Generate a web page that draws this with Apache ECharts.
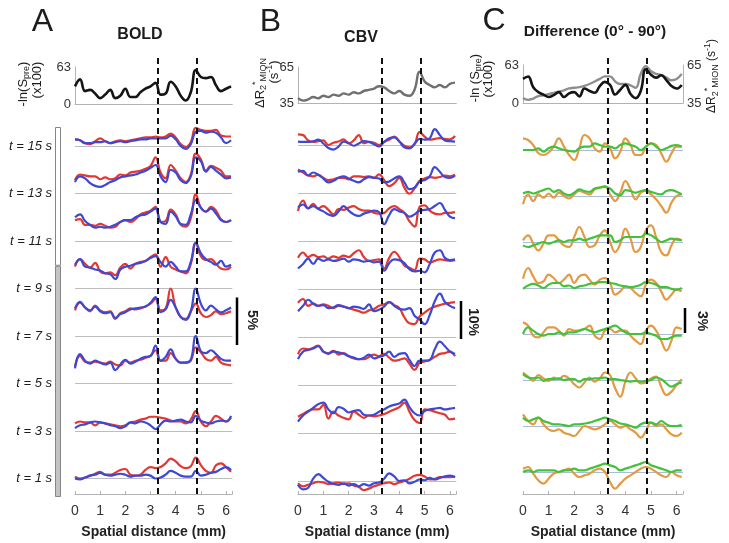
<!DOCTYPE html>
<html><head><meta charset="utf-8">
<script src="https://cdn.jsdelivr.net/npm/echarts@6/dist/echarts.min.js"></script>
<style>html,body{margin:0;padding:0;background:#fff}#c{width:729px;height:543px}</style>
</head><body><div id="c"></div>
<script>
// ---------------- DATA ----------------
const distanceMm = [0,0.2,0.4,0.6,0.8,1.0,1.2,1.4,1.6,1.8,2.0,2.2,2.4,2.6,2.8,3.0,3.2,3.4,3.6,3.8,4.0,4.2,4.4,4.6,4.8,5.0,5.2,5.4,5.6,5.8,6.0,6.2];
const times = ['t = 15 s','t = 13 s','t = 11 s','t = 9 s','t = 7 s','t = 5 s','t = 3 s','t = 1 s'];
const dashedLinesMm = [3.3, 4.85];
const scaleBarPct = [5, 10, 3];
const stimulusSec = 10;
const timeWindowSec = 16;

// top profiles
const boldTop = [30,42,22,24,18,10,16,24,10,14,26,12,12,20,26,30,36,16,18,38,30,14,6,20,58,46,44,46,32,22,26,30];
const cbvTop = [39,37,38,40,39,41,40,42,41,43,42,44,43,45,46,47,49,48,45,43,45,42,41,46,61,53,50,48,50,48,51,52];
const diffTopBold = [40,44,26,18,14,10,13,18,10,16,18,11,24,20,17,28,35,30,14,22,30,15,8,20,56,47,42,46,38,28,24,30];
const diffTopCbv = [39,37.5,38.5,40.5,41,42,43,44,45,46.5,47,47.5,48.5,50,52,54,56,56,52,50,50,49,47,58,64,60,58,57,55,53,54,58];

// BOLD (% change), rows t=15 ... t=1
const boldRed = [
 [0.7,0.6,0.3,0.2,0.5,0.8,0.5,0.3,0.5,0.6,0.5,0.6,0.7,0.8,0.9,0.9,1.0,0.9,1.0,1.3,0.9,0.2,-0.1,0.4,1.9,1.7,1.6,1.6,1.7,1.1,1.0,1.0],
 [1.4,2.0,1.9,1.8,1.8,1.5,1.7,1.5,1.6,2.0,1.9,2.2,2.3,2.4,2.6,2.9,3.8,2.2,1.6,3.0,2.4,1.6,1.2,2.0,4.2,3.6,2.4,2.9,2.7,2.4,1.8,1.8],
 [2.2,2.3,1.7,1.7,1.6,1.8,1.6,1.4,1.5,2.0,2.2,2.0,2.3,2.8,3.0,3.2,3.6,2.0,2.1,3.3,2.8,1.7,1.5,2.4,4.9,3.5,3.1,3.6,3.2,2.3,2.0,2.2],
 [2.3,3.1,2.6,2.2,2.7,1.8,1.6,1.7,1.4,2.2,2.6,2.1,2.6,2.8,2.9,3.3,3.6,2.3,3.3,2.3,2.0,1.8,1.6,2.6,4.8,3.4,3.0,3.1,2.6,2.1,2.0,2.3],
 [2.7,3.5,3.0,2.6,3.2,2.7,2.5,2.6,1.8,2.4,2.6,2.9,2.8,2.9,3.1,3.4,3.9,2.7,2.9,5.0,3.0,2.0,1.8,2.6,3.4,2.4,2.0,2.2,2.6,2.3,2.4,2.6],
 [1.8,2.9,2.3,2.2,2.3,2.2,2.1,2.3,2.0,1.9,2.4,2.2,2.4,2.5,2.7,2.9,3.5,2.4,2.4,3.2,2.6,2.2,2.2,2.4,3.8,3.3,2.6,2.4,2.8,2.2,2.0,1.9],
 [0.8,1.0,0.9,0.9,0.6,0.9,0.8,0.7,0.6,0.5,0.6,0.9,1.0,1.2,1.3,1.5,1.5,1.4,1.3,1.1,1.0,1.0,0.8,1.2,2.1,1.0,0.5,1.0,1.6,1.3,1.0,1.4],
 [0.2,0.0,0.1,0.3,0.5,0.7,0.4,0.4,0.6,0.9,1.0,0.4,0.3,0.4,0.9,1.2,1.1,1.2,1.6,2.1,1.8,1.3,1.1,1.3,2.2,1.4,0.8,0.6,1.4,1.6,1.2,0.7]
];
const boldBlue = [
 [0.7,0.6,0.3,0.3,0.4,0.4,0.5,0.3,0.4,0.5,0.4,0.5,0.6,0.7,0.7,0.8,0.8,0.8,0.8,1.1,0.7,0.0,-0.3,0.2,1.5,1.6,1.4,1.5,1.4,0.9,0.3,0.6],
 [1.2,1.8,1.6,1.1,0.8,0.7,0.9,1.2,1.4,1.7,1.8,1.9,2.0,2.2,2.4,2.7,3.0,1.8,1.2,2.5,2.2,1.4,1.1,1.8,3.8,3.4,2.3,2.8,2.4,2.0,1.6,1.7],
 [2.5,2.8,2.1,1.7,1.4,1.5,1.4,1.5,1.7,2.0,2.2,2.2,2.5,2.7,2.8,3.1,3.4,2.0,1.8,3.1,2.6,1.8,1.7,2.8,4.3,3.5,3.1,3.4,2.9,2.2,2.0,2.2],
 [2.5,3.1,2.3,2.2,2.0,1.9,1.6,1.5,1.0,2.0,2.3,2.4,2.6,2.7,2.9,3.2,3.4,2.8,2.3,2.8,2.3,1.8,1.8,2.8,4.8,3.7,3.1,2.8,2.5,2.9,2.3,2.5],
 [2.9,3.6,3.0,2.7,3.1,2.6,2.4,2.5,1.9,2.3,2.5,2.8,2.9,3.0,3.1,3.5,4.1,2.5,2.8,3.8,3.0,2.0,1.7,2.6,5.0,3.4,2.7,3.2,2.8,2.5,2.7,3.0],
 [1.6,3.1,2.4,2.1,2.4,2.2,2.0,2.2,1.4,2.0,2.5,2.1,2.3,2.6,2.8,2.9,4.0,2.4,2.8,3.6,2.6,2.2,2.2,2.5,5.0,3.4,3.2,3.5,3.1,2.6,2.4,2.4],
 [0.3,0.6,0.7,0.9,1.0,0.9,0.8,0.6,0.5,0.3,0.5,0.9,0.8,1.0,0.9,0.6,0.2,0.7,1.1,1.0,1.1,1.2,1.0,0.9,1.6,1.1,0.9,0.8,1.0,1.1,1.0,1.6],
 [0.0,-0.1,0.1,0.3,0.4,0.6,0.4,0.3,0.4,0.5,0.4,0.2,0.3,0.3,0.4,0.3,0.0,0.1,0.4,0.8,0.6,0.3,0.2,0.2,0.8,0.3,0.4,0.6,0.7,1.0,1.2,0.9]
];

// CBV (% change)
const cbvRed = [
 [2.8,2.6,1.2,0.8,1.0,1.2,0.0,0.6,0.9,1.5,0.4,1.2,2.6,0.5,0.8,0.6,0.0,0.8,1.4,2.2,1.0,-0.2,-0.6,0.2,3.4,2.2,1.4,1.6,1.8,1.6,1.5,2.4],
 [6.2,5.4,4.6,4.4,4.8,4.0,3.4,3.6,4.0,4.0,3.6,4.4,4.4,4.2,4.4,4.0,4.9,3.4,1.8,2.6,4.0,1.4,-0.2,1.2,3.2,3.8,4.2,4.0,4.2,4.6,4.4,4.8],
 [7.9,10.6,8.6,9.8,8.6,9.2,8.2,7.0,8.4,8.2,8.8,9.2,8.4,8.0,8.0,7.4,7.2,7.4,8.6,9.2,8.4,7.4,5.2,3.8,9.0,9.4,8.0,7.2,7.0,7.4,7.4,7.6],
 [8.2,9.6,8.4,9.0,8.4,8.6,8.0,8.6,8.2,8.8,8.4,9.4,10.2,8.4,7.4,7.6,7.8,5.4,8.2,9.8,8.4,6.2,5.6,5.0,8.0,7.8,7.0,7.4,7.8,7.6,7.4,7.6],
 [9.0,10.0,8.2,8.8,8.2,8.6,8.2,7.6,8.2,8.0,7.6,7.2,6.8,6.4,7.0,7.4,8.2,8.6,9.2,8.4,7.6,5.2,3.6,3.4,5.4,6.4,7.4,8.0,8.4,8.8,9.0,9.2],
 [8.1,9.6,9.4,9.8,10.4,8.8,8.4,9.0,8.0,8.4,7.6,7.0,6.8,6.8,7.4,8.0,7.6,8.2,7.2,6.4,6.6,7.0,5.6,4.0,5.8,6.2,6.6,7.4,8.2,8.4,8.8,7.6],
 [4.3,5.0,5.8,6.2,6.2,7.4,3.8,5.6,4.6,4.0,3.6,5.6,4.8,4.0,4.6,4.4,4.6,5.0,5.6,6.2,6.8,8.0,5.6,3.4,2.6,6.2,6.0,5.6,5.2,4.8,3.6,3.8],
 [-0.6,-1.4,-1.0,-0.6,-0.2,-0.4,-0.8,-0.6,-0.4,-0.8,-0.6,-1.2,-1.6,-2.4,-2.0,-1.4,-1.0,-0.6,-0.4,-0.8,-0.4,0.0,0.6,1.4,1.6,1.2,0.4,0.6,1.0,1.0,1.0,1.2]
];
const cbvBlue = [
 [0.9,0.8,0.8,1.0,1.4,0.4,-0.8,-1.2,-0.4,0.9,0.5,-0.2,0.4,1.0,0.8,0.2,-0.4,0.8,1.8,2.0,0.9,-0.6,-0.9,0.3,1.6,1.4,1.8,4.2,2.6,1.2,1.0,0.9],
 [5.6,5.8,4.6,5.4,4.8,3.8,2.8,3.2,4.0,4.4,3.8,3.2,2.8,3.6,4.2,4.0,3.8,2.8,3.0,3.8,4.4,2.8,1.0,1.4,3.0,3.4,4.4,6.8,5.6,4.2,4.0,4.6],
 [8.8,9.6,8.6,9.2,8.4,7.8,7.0,6.6,7.8,9.2,8.0,7.0,6.6,7.2,7.6,8.0,7.6,4.4,6.8,8.4,7.8,7.4,6.4,7.0,8.0,8.2,8.4,9.2,10.0,8.2,6.4,6.0],
 [5.4,6.6,8.0,6.6,8.0,7.4,7.8,7.4,7.6,8.0,7.2,7.8,7.6,7.2,7.4,7.0,7.2,4.8,6.8,7.8,7.6,6.8,5.2,4.6,4.8,4.4,6.6,9.6,10.2,8.2,7.6,7.8],
 [6.8,8.2,9.8,8.8,8.2,8.4,7.6,7.8,8.4,8.0,7.6,8.0,7.8,7.4,8.6,6.8,7.2,8.0,9.2,8.2,7.4,7.2,7.6,5.6,4.6,3.4,5.8,9.4,11.4,9.2,8.2,7.6],
 [6.8,8.8,9.2,9.6,10.2,8.8,8.2,8.8,8.6,8.2,7.6,7.2,6.8,7.2,8.0,7.0,7.4,7.8,8.8,7.4,8.2,8.4,6.6,5.0,6.4,6.4,6.6,9.4,11.4,10.2,8.8,8.2],
 [3.0,4.6,5.6,6.6,7.6,8.0,6.2,5.2,6.8,6.4,5.4,5.8,6.0,4.8,4.6,4.8,5.6,6.2,7.0,7.4,7.8,8.8,6.8,5.2,4.6,5.8,6.2,6.4,6.6,6.2,6.4,6.6],
 [-1.0,-2.2,-1.8,0.6,1.8,0.8,-0.2,-0.8,-1.0,-0.6,-1.2,-0.8,-1.4,-0.8,-1.2,-0.6,-0.4,0.6,2.0,1.2,0.0,0.2,-0.6,-0.2,0.4,0.2,0.8,0.4,0.8,1.2,1.4,1.0]
];

// Difference (0 - 90 deg), % change
const diffOrange = [
 [1.4,1.2,0.6,-0.4,-0.6,-0.3,0.4,1.4,0.4,-0.6,-1.2,0.2,1.8,1.4,0.2,-0.2,0.8,0.2,-1.0,-0.2,1.4,0.6,-0.6,-0.6,0.4,0.8,0.6,-0.4,-1.4,-0.4,0.4,0.4],
 [-1.0,0.2,-0.6,0.2,-0.2,0.3,-0.2,0.4,0.0,-0.3,0.2,0.6,0.4,0.2,0.8,1.0,1.2,0.2,-0.6,0.4,1.8,0.8,-0.4,0.4,0.6,0.2,-0.4,-1.2,-2.0,-0.8,0.0,0.2],
 [0.2,0.8,-0.2,-1.0,-0.2,0.8,0.8,0.2,-0.4,-0.6,0.6,1.8,0.6,-0.6,-0.4,0.8,1.4,0.0,-1.2,-0.2,1.6,0.4,-1.2,-0.6,1.4,2.0,0.6,-1.2,-1.6,-0.4,0.4,0.2],
 [1.1,2.4,1.4,0.6,0.8,1.6,1.2,0.6,1.0,1.6,0.6,1.4,1.6,1.0,0.4,1.0,1.2,0.6,-0.8,-0.4,0.2,0.0,-0.6,-1.0,0.4,1.0,0.6,-0.4,-1.4,-0.8,-0.2,-0.4],
 [1.4,1.0,-0.2,-0.4,0.2,0.8,0.8,0.4,-0.2,0.6,0.4,0.4,0.6,1.0,-0.2,-0.6,0.4,0.6,0.2,0.4,0.4,-0.2,-0.8,-1.2,0.4,1.0,0.4,-0.8,-2.0,-0.8,0.8,0.6],
 [0.9,0.4,-0.1,0.6,0.2,-0.1,0.3,0.1,0.5,0.2,-0.5,-0.9,-0.3,0.3,-0.2,0.2,0.9,0.6,-1.0,-2.0,-0.2,0.9,0.2,-0.4,-0.3,0.2,0.4,-0.8,-1.8,-1.4,-0.6,0.1],
 [1.4,0.6,0.2,1.0,0.2,-0.4,-0.6,-0.4,-0.8,-1.0,-1.2,-0.6,0.0,-0.2,-0.4,-0.2,0.2,0.6,0.2,-0.2,0.0,-0.4,-0.8,-1.4,-0.6,0.4,0.0,0.2,-0.4,-1.0,-1.2,-0.8],
 [0.4,0.6,-0.2,-1.0,-1.4,-0.8,-0.2,0.0,0.2,0.4,-0.2,-0.6,-0.4,-0.2,0.2,0.4,0.0,-1.2,-2.0,-1.4,-0.8,-0.4,0.0,0.4,0.6,0.4,0.0,-0.4,-0.6,0.0,-0.4,-0.6]
];
const diffGreen = [
 [0.0,0.0,0.0,0.2,-0.2,0.2,0.4,0.2,0.0,-0.1,-0.2,0.2,0.4,0.4,0.8,0.6,0.4,0.4,0.2,0.6,0.8,0.6,0.4,0.0,0.4,0.8,0.4,0.0,0.2,0.5,0.6,0.4],
 [0.3,0.5,0.3,0.5,0.7,0.9,0.5,0.7,0.3,0.1,0.4,0.8,0.6,0.5,0.9,1.0,1.1,0.9,0.3,0.1,0.7,0.6,0.4,0.6,0.7,0.5,0.3,0.2,0.6,0.7,0.5,0.2],
 [-0.4,-0.6,-0.4,-0.2,0.0,-0.2,0.0,0.2,0.0,0.2,0.2,0.4,0.2,0.4,0.6,0.8,0.8,0.8,0.0,0.2,0.6,0.6,0.6,0.6,1.0,0.8,0.4,0.0,0.2,0.4,0.3,0.2],
 [-0.1,0.3,0.5,0.3,0.0,0.4,0.6,0.6,0.2,0.3,0.0,0.2,0.3,0.5,0.6,0.7,0.7,0.6,0.5,0.3,0.2,0.1,0.2,0.4,0.7,0.6,0.4,0.1,0.1,-0.1,-0.2,0.0],
 [0.0,0.8,0.4,0.0,-0.2,0.0,0.0,0.2,0.0,0.2,0.2,0.4,0.6,0.4,0.2,0.4,0.6,0.8,1.0,0.6,0.2,0.0,0.0,0.0,0.2,0.0,-0.2,-0.6,-0.6,-0.4,-0.2,-0.2],
 [0.7,0.3,0.2,0.3,-0.1,0.1,0.1,0.2,0.0,0.1,0.1,-0.2,0.1,0.1,0.2,0.2,0.3,0.1,0.1,0.0,-0.1,-0.2,-0.1,-0.2,-0.1,0.0,0.3,0.1,-0.4,-0.8,-0.5,-0.3],
 [1.0,0.6,0.8,1.0,0.6,0.4,0.2,0.2,0.1,0.0,0.2,0.2,0.3,0.4,0.6,0.8,1.0,0.8,0.6,0.3,0.2,0.0,-0.2,0.2,0.4,0.4,0.2,0.6,0.2,0.0,0.0,0.1],
 [0.0,0.2,0.0,0.2,0.2,0.2,0.2,0.0,0.2,0.2,0.4,0.2,0.2,0.4,0.6,0.8,1.0,0.8,0.6,0.2,0.4,0.6,0.8,1.0,1.2,0.8,0.6,0.4,0.2,0.0,0.2,0.2]
];

// ---------------- LAYOUT (pixels) ----------------
const FF = '"Liberation Sans", Arial, Helvetica, sans-serif';
const X_MAX = 6.25, STACK_TOP = 58, AXIS_Y = 494;
const LAY = [
  {x0: 75,  pxPerMm: 25.17, row1: 478.5, rowGap: 47.5, pxPerPct: 9.5,  topTop: 67, topH: 37, barXpx: 237, barBottomPx: 345},
  {x0: 298, pxPerMm: 25.33, row1: 481,   rowGap: 48,   pxPerPct: 3.8,  topTop: 67, topH: 36, barXpx: 461, barBottomPx: 339},
  {x0: 523, pxPerMm: 25.6,  row1: 472,   rowGap: 46,   pxPerPct: 8.33, topTop: 65, topH: 38, barXpx: 685, barBottomPx: 333}
];

const panels = [
  {top: [{data: boldTop, color: '#151515', width: 2.6, min: 0, max: 63, interval: 63, pos: 'left'}],
   rows: [boldRed, boldBlue], colors: ['#e4372f', '#3c48d6'], base: '#bdbdbd'},
  {top: [{data: cbvTop, color: '#6f6f6f', width: 2.4, min: 35, max: 65, interval: 30, pos: 'left'}],
   rows: [cbvRed, cbvBlue], colors: ['#e4372f', '#3c48d6'], base: '#bdbdbd'},
  {top: [{data: diffTopCbv, color: '#8e8e8e', width: 2.4, min: 35, max: 65, interval: 30, pos: 'right'},
         {data: diffTopBold, color: '#151515', width: 2.6, min: 0, max: 63, interval: 63, pos: 'left'}],
   rows: [diffOrange, diffGreen], colors: ['#e39a42', '#42c23a'], base: '#a9bdd8'}
];

const option = {animation: false, backgroundColor: '#fff', grid: [], xAxis: [], yAxis: [], series: [], graphic: []};
const addGrid = g => (option.grid.push(Object.assign({outerBoundsMode: 'none'}, g)), option.grid.length - 1);
const addX = a => (option.xAxis.push(a), option.xAxis.length - 1);
const addY = a => (option.yAxis.push(a), option.yAxis.length - 1);
const axisGray = '#b3b3b3';

panels.forEach((p, pi) => {
  const lay = LAY[pi];
  const w = X_MAX * lay.pxPerMm;
  // top profile plot
  const gT = addGrid({left: lay.x0, top: lay.topTop, width: w, height: lay.topH});
  const xT = addX({gridIndex: gT, type: 'value', min: 0, max: X_MAX,
    axisLine: {onZero: false, lineStyle: {color: axisGray, width: 1}}, axisTick: {show: false},
    axisLabel: {show: false}, splitLine: {show: false}});
  p.top.forEach(t => {
    const yT = addY({gridIndex: gT, type: 'value', position: t.pos, min: t.min, max: t.max, interval: t.interval,
      axisLine: {show: true, onZero: false, lineStyle: {color: axisGray, width: 1}}, axisTick: {show: false},
      splitLine: {show: false}, axisLabel: {fontSize: 13, color: '#333', margin: 4, fontFamily: FF}});
    option.series.push({type: 'line', xAxisIndex: xT, yAxisIndex: yT, silent: true,
      data: distanceMm.map((x, i) => [x, t.data[i]]), smooth: 0.45, symbol: 'none',
      lineStyle: {color: t.color, width: t.width}, z: 4});
  });
  // stacked time-course plot
  const gS = addGrid({left: lay.x0, top: STACK_TOP, width: w, height: AXIS_Y - STACK_TOP});
  const xS = addX({gridIndex: gS, type: 'value', min: 0, max: X_MAX, interval: 1,
    axisLine: {onZero: false, lineStyle: {color: axisGray, width: 1}},
    axisTick: {inside: true, length: 3, lineStyle: {color: axisGray}},
    axisLabel: {fontSize: 14, color: '#333', margin: 10, fontFamily: FF,
      formatter: v => (Math.abs(v - Math.round(v)) < 1e-6 && v <= 6) ? String(Math.round(v)) : ''},
    splitLine: {show: false},
    name: 'Spatial distance (mm)', nameLocation: 'middle', nameGap: 31,
    nameTextStyle: {fontSize: 14, fontWeight: 'bold', color: '#222', fontFamily: FF}});
  const yMin = (lay.row1 - AXIS_Y) / lay.pxPerPct, yMax = (lay.row1 - STACK_TOP) / lay.pxPerPct;
  const yS = addY({gridIndex: gS, type: 'value', show: false, min: yMin, max: yMax});
  const step = lay.rowGap / lay.pxPerPct;
  times.forEach((t, k) => {
    const off = (times.length - 1 - k) * step;
    p.rows.forEach((rows, si) => {
      const s = {type: 'line', xAxisIndex: xS, yAxisIndex: yS, silent: true,
        data: distanceMm.map((x, i) => [x, off + rows[k][i]]), smooth: 0.45, symbol: 'none',
        lineStyle: {color: p.colors[si], width: 2.2}, z: 3 + si};
      if (si === 0) s.markLine = {silent: true, symbol: ['none', 'none'], label: {show: false}, z: 1,
        animation: false, lineStyle: {color: p.base, width: 1, type: 'solid'}, data: [{yAxis: off}]};
      option.series.push(s);
    });
  });
  // dashed reference lines
  option.series.push({type: 'line', xAxisIndex: xS, yAxisIndex: yS, silent: true, symbol: 'none',
    data: [[0, 0]], lineStyle: {opacity: 0}, z: 10,
    markLine: {silent: true, symbol: ['none', 'none'], label: {show: false}, z: 10, animation: false,
      lineStyle: {color: '#111', width: 2, type: [6, 4]}, data: dashedLinesMm.map(v => ({xAxis: v}))}});
  // scale bar, in its own narrow grid sharing the panel's % scale
  const gBar = addGrid({left: lay.barXpx - 5, top: STACK_TOP, width: 10, height: AXIS_Y - STACK_TOP});
  const xBar = addX({gridIndex: gBar, type: 'value', min: -1, max: 1, show: false});
  const yBar = addY({gridIndex: gBar, type: 'value', show: false, min: yMin, max: yMax});
  const by = (lay.row1 - lay.barBottomPx) / lay.pxPerPct;
  option.series.push({type: 'line', xAxisIndex: xBar, yAxisIndex: yBar, silent: true, symbol: 'none',
    data: [[0, by], [0, by + scaleBarPct[pi]]], lineStyle: {color: '#000', width: 2.5}, z: 6});
});

// stimulus bar (time axis 0..16 s)
const gB = addGrid({left: 55, top: 127, width: 6, height: 370});
const xB = addX({gridIndex: gB, type: 'category', data: ['stimulus'], show: false});
const yB = addY({gridIndex: gB, type: 'value', min: 0, max: timeWindowSec, show: false});
option.series.push({type: 'bar', xAxisIndex: xB, yAxisIndex: yB, stack: 'stim', barWidth: '100%', silent: true,
  data: [stimulusSec], itemStyle: {color: '#c3c3c3', borderColor: '#858585', borderWidth: 1}});
option.series.push({type: 'bar', xAxisIndex: xB, yAxisIndex: yB, stack: 'stim', barWidth: '100%', silent: true,
  data: [timeWindowSec - stimulusSec], itemStyle: {color: '#ffffff', borderColor: '#858585', borderWidth: 1}});

// ---------------- TEXT ----------------
const TXT = '#1c1c1c';
const rich = {
  sub: {fontSize: 9, lineHeight: 9, verticalAlign: 'bottom', fill: TXT, fontFamily: FF},
  sup: {fontSize: 9, lineHeight: 9, verticalAlign: 'top', fill: TXT, fontFamily: FF}
};
function T(x, y, text, o) {
  o = o || {};
  const style = {text: text, fill: o.fill || TXT, fontSize: o.size || 13, fontWeight: o.weight || 'normal',
    fontStyle: o.italic ? 'italic' : 'normal', fontFamily: FF, align: o.align || 'center', verticalAlign: 'middle'};
  if (o.rich) { style.rich = rich; style.lineHeight = 17; }
  option.graphic.push({type: 'text', x: x, y: y, rotation: o.rot || 0, z: 100, silent: true, style: style});
}
T(42.5, 22, 'A', {size: 32});
T(270.5, 22, 'B', {size: 32});
T(494, 21, 'C', {size: 32});
T(140, 34.5, 'BOLD', {size: 16, weight: 'bold'});
T(361, 37.5, 'CBV', {size: 16, weight: 'bold'});
T(595, 32, 'Difference (0\u00B0 - 90\u00B0)', {size: 15.5, weight: 'bold'});
const R90 = Math.PI / 2;
T(23, 84, '-ln(S{sub|pre})', {rot: R90, rich: true});
T(37, 80, '(x100)', {rot: R90});
T(260, 83, '\u0394R{sub|2}{sup|*}{sub|MION}', {rot: R90, rich: true});
T(274, 72, '(s{sup|-1})', {rot: R90, rich: true});
T(475, 78, '-ln (S{sub|pre})', {rot: R90, rich: true});
T(488, 79, '(x100)', {rot: R90});
T(712, 76, '\u0394R{sub|2}{sup|*}{sub|MION} (s{sup|-1})', {rot: R90, rich: true, size: 12});
times.forEach((t, k) => T(52, LAY[0].row1 - (times.length - 1 - k) * LAY[0].rowGap, t, {align: 'right', italic: true, size: 13}));
T(252, 320, scaleBarPct[0] + '%', {rot: -R90, weight: 'bold', size: 14});
T(473, 322, scaleBarPct[1] + '%', {rot: -R90, weight: 'bold', size: 14});
T(702, 321, scaleBarPct[2] + '%', {rot: -R90, weight: 'bold', size: 14});

const chart = echarts.init(document.getElementById('c'), null, {renderer: 'canvas'});
chart.setOption(option);
</script>
</body></html>
